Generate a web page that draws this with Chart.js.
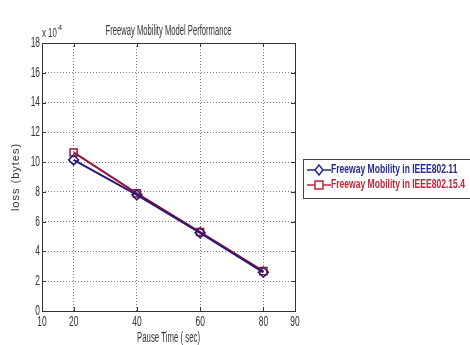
<!DOCTYPE html>
<html>
<head>
<meta charset="utf-8">
<script src="https://cdn.jsdelivr.net/npm/chart.js@4/dist/chart.umd.min.js"></script>
<style>
  html, body { margin: 0; padding: 0; background: #fff; }
  #wrap { width: 470px; height: 345px; }
</style>
</head>
<body>
<div id="wrap"><canvas id="myChart" width="470" height="345"></canvas></div>
<script>
// pause time (sec)
var pauseTimes = [20, 40, 60, 80];
// loss (bytes)
var loss80211 = [101500, 78000, 52500, 26000];
var loss802154 = [106500, 79000, 53000, 26800];
var xTicks = [10, 20, 40, 60, 80, 90];
var yTicks = [0, 2, 4, 6, 8, 10, 12, 14, 16, 18];

var FONT = '"Liberation Sans", Arial, sans-serif';
var SQ = 0.6; // horizontal squeeze, matlab font is narrow

// draw text squeezed horizontally by factor k
function narrowText(c, txt, x, y, k) {
    c.save();
    c.translate(x, y);
    c.scale(k, 1);
    c.fillText(txt, 0, 0);
    c.restore();
    return c.measureText(txt).width * k;
}

// squeeze to a given width
function fitText(c, txt, x, y, w) {
    return narrowText(c, txt, x, y, w / c.measureText(txt).width);
}

// box, inward ticks, tick labels, titles and legend
var matlabStuff = {
    id: 'matlabStuff',
    afterDraw: function (chart) {
        var c = chart.ctx, a = chart.chartArea;
        var xs = chart.scales.x, ys = chart.scales.y;
        c.save();
        c.strokeStyle = '#333';
        c.lineWidth = 1;
        c.strokeRect(a.left + 0.5, a.top + 0.5, a.right - a.left, a.bottom - a.top);
        c.beginPath();
        xTicks.forEach(function (t) {
            var px = Math.round(xs.getPixelForValue(t)) + 0.5;
            c.moveTo(px, a.bottom); c.lineTo(px, a.bottom - 4);
            c.moveTo(px, a.top); c.lineTo(px, a.top + 4);
        });
        yTicks.forEach(function (t) {
            var py = Math.round(ys.getPixelForValue(t * 10000)) + 0.5;
            c.moveTo(a.left, py); c.lineTo(a.left + 4, py);
            c.moveTo(a.right, py); c.lineTo(a.right - 4, py);
        });
        c.stroke();

        c.fillStyle = '#333';
        c.font = '14px ' + FONT;
        // tick labels
        c.textAlign = 'center';
        c.textBaseline = 'top';
        xTicks.forEach(function (t) {
            narrowText(c, String(t), xs.getPixelForValue(t), a.bottom + 4, SQ);
        });
        c.textAlign = 'right';
        c.textBaseline = 'middle';
        yTicks.forEach(function (t) {
            narrowText(c, String(t), a.left - 2, ys.getPixelForValue(t * 10000), SQ);
        });

        c.textBaseline = 'alphabetic';
        c.textAlign = 'center';
        c.font = '14px ' + FONT;
        fitText(c, 'Freeway Mobility Model Performance', (a.left + a.right) / 2, 35, 126);
        fitText(c, 'Pause Time ( sec)', (a.left + a.right) / 2, 342, 63);
        c.textAlign = 'left';
        c.font = '12px ' + FONT;
        var w = narrowText(c, 'x 10', 42, 37, 0.65);
        c.font = '8px ' + FONT;
        c.fillText('4', 42 + w + 1, 30);

        // y label
        c.save();
        c.translate(19, (a.top + a.bottom) / 2);
        c.rotate(-Math.PI / 2);
        c.textAlign = 'center';
        c.font = '11px ' + FONT;
        c.letterSpacing = '1px';
        c.fillText('loss (bytes)', 0, 0);
        c.restore();

        // legend
        var lx = 303, ly = 159, lw = 170, lh = 39;
        c.fillStyle = '#fff';
        c.fillRect(lx, ly, lw, lh);
        c.strokeStyle = '#444';
        c.strokeRect(lx + 0.5, ly + 0.5, lw, lh);
        c.font = 'bold 12px ' + FONT;
        var k = 134 / c.measureText(chart.data.datasets[1].label).width;
        chart.data.datasets.forEach(function (ds, i) {
            var y = ly + 11 + i * 15;
            c.strokeStyle = ds.legendColor;
            c.lineWidth = 1.5;
            c.beginPath();
            c.moveTo(lx + 4, y); c.lineTo(lx + 28, y);
            c.stroke();
            c.beginPath();
            if (ds.pointStyle === 'rectRot') {
                c.moveTo(lx + 16, y - 5); c.lineTo(lx + 20, y);
                c.lineTo(lx + 16, y + 5); c.lineTo(lx + 12, y);
                c.closePath();
            } else {
                c.rect(lx + 12, y - 4, 8, 8);
            }
            c.fillStyle = '#fff';
            c.fill();
            c.stroke();
            c.fillStyle = ds.legendColor;
            c.textAlign = 'left';
            c.textBaseline = 'middle';
            narrowText(c, ds.label, lx + 28, y, k);
        });
        c.restore();
    }
};

function pts(ys) {
    return pauseTimes.map(function (x, i) { return { x: x, y: ys[i] }; });
}

var ctx = document.getElementById('myChart').getContext('2d');
var chart = new Chart(ctx, {
    type: 'line',
    data: {
        datasets: [{
            label: 'Freeway Mobility in IEEE802.11',
            data: pts(loss80211),
            borderColor: 'rgb(45, 25, 110)',
            legendColor: 'rgb(40, 40, 150)',
            backgroundColor: 'rgba(255,255,255,0)',
            borderWidth: 2,
            pointStyle: 'rectRot',
            pointRadius: 5,
            pointBorderWidth: 1.5
        }, {
            label: 'Freeway Mobility in IEEE802.15.4',
            data: pts(loss802154),
            borderColor: 'rgb(150, 20, 60)',
            legendColor: 'rgb(195, 35, 55)',
            backgroundColor: 'rgba(255,255,255,0)',
            borderWidth: 2,
            pointStyle: 'rect',
            pointRadius: 5,
            pointBorderWidth: 1.5
        }]
    },
    options: {
        responsive: false,
        animation: false,
        layout: { padding: { top: 43, right: 175, left: 0, bottom: 0 } },
        plugins: {
            legend: { display: false },
            tooltip: { enabled: false }
        },
        scales: {
            x: {
                type: 'linear',
                min: 10, max: 90,
                afterBuildTicks: function (s) {
                    s.ticks = xTicks.map(function (v) { return { value: v }; });
                },
                afterFit: function (s) { s.height = 34; },
                grid: { color: '#777', drawTicks: false, lineWidth: 1 },
                border: { display: false, dash: [1, 2] },
                ticks: { display: false }
            },
            y: {
                min: 0, max: 180000,
                afterBuildTicks: function (s) {
                    s.ticks = yTicks.map(function (v) { return { value: v * 10000 }; });
                },
                afterFit: function (s) { s.width = 42; },
                grid: { color: '#777', drawTicks: false, lineWidth: 1 },
                border: { display: false, dash: [1, 2] },
                ticks: { display: false }
            }
        }
    },
    plugins: [matlabStuff]
});
</script>
</body>
</html>
